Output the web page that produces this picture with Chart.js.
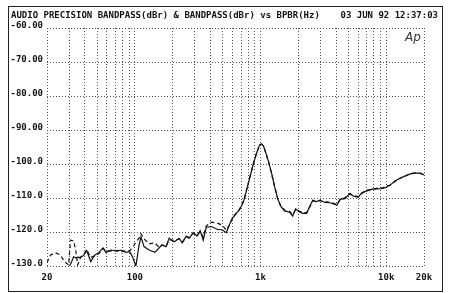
<!DOCTYPE html>
<html>
<head>
<meta charset="utf-8">
<script src="https://cdn.jsdelivr.net/npm/chart.js@4/dist/chart.umd.min.js"></script>
<style>
  html, body { margin: 0; padding: 0; background: #fff; }
  canvas { display: block; }
</style>
</head>
<body>
<canvas id="ap-sweep" width="450" height="293"></canvas>
<script>
// sweep frequencies (Hz)
const freqs = [20, 21.3, 23.3, 25.6, 27.5, 29.7, 30.8, 32.6, 33.8, 35.1,
  37.1, 39.3, 41.4, 44.6, 47.9, 51.9, 55.8, 58.9, 64.6, 72.1,
  77.4, 84.8, 91.2, 96.3, 101.9, 107.9, 111.9, 118.3, 129.8, 144.5,
  155.6, 164.6, 177.2, 187.5, 205.6, 225.4, 238.3, 256.5, 270.4, 291,
  313, 331, 350, 370, 406, 453, 497, 535, 565, 597,
  642, 680, 718, 745, 787, 832, 879, 929, 982, 1019,
  1057, 1096, 1159, 1225, 1295, 1368, 1445, 1556, 1706, 1803,
  1905, 2013, 2167, 2334, 2424, 2610, 2757, 2965, 3251, 3565,
  3908, 4055, 4285, 4699, 5152, 5445, 5970, 6430, 7047, 7727,
  8472, 9460, 10190, 10764, 11800, 12941, 14190, 15557, 17060, 18700,
  20000];

// BANDPASS (dBr), solid trace
const bandpassA = [-131, -131, -131, -131, -130.5, -130.2, -129.5, -127.3, -127.6, -127.4,
  -127.5, -126.8, -125.5, -128.7, -126.8, -126, -124.7, -126, -125.3, -125.6,
  -125.3, -126, -125.8, -127.5, -130, -124, -121.4, -124.3, -125.3, -126,
  -124.7, -123.8, -124.3, -121.8, -122.9, -121.9, -123.2, -121.2, -121.9, -120.2,
  -121.2, -119.6, -122.4, -118.6, -118.4, -119.2, -119.4, -120.2, -117.9, -116,
  -114.5, -113.5, -111.8, -110.1, -106.7, -103.2, -99.8, -96.9, -94.4, -94.1,
  -94.7, -96.4, -99.3, -102.7, -106.7, -110.1, -112.4, -113.8, -114.2, -115.3,
  -113.2, -114, -114.5, -114.5, -113, -110.6, -111.1, -110.6, -111.3, -111.4,
  -111.9, -112.1, -110.4, -110.2, -108.6, -109.4, -109.8, -108.4, -107.9, -107.4,
  -107.3, -107.2, -106.7, -106.2, -104.9, -104.2, -103.5, -102.9, -102.7, -102.7,
  -103.2];

// BANDPASS (dBr), dashed trace
const bandpassB = [-129, -126.8, -126.1, -126.8, -128.7, -129.7, -122.4, -122.6, -125.3, -129.7,
  -127.3, -126.5, -125.2, -127.5, -127, -126.3, -124.8, -125.5, -125.6, -125.4,
  -125.8, -125.5, -125.4, -124.5, -123, -121.8, -120.5, -122, -123.5, -123.2,
  -124.5, -123.8, -124.3, -122.3, -122.5, -122, -123, -121.4, -121.6, -120.4,
  -121, -119.8, -121.5, -118.2, -117.1, -117.4, -118, -119.5, -118, -116,
  -114.3, -113.3, -111.6, -110, -106.6, -103.2, -99.8, -96.8, -94.4, -94.1,
  -94.8, -96.5, -99.4, -102.8, -106.6, -110, -112.2, -113.6, -114, -115,
  -113.4, -113.8, -114.3, -114.2, -113.2, -110.8, -110.9, -110.8, -111.1, -111.2,
  -111.7, -112, -110.6, -109.9, -108.8, -109.2, -109.6, -108.6, -107.7, -107.5,
  -107.1, -107, -106.4, -106.3, -105.1, -104.1, -103.6, -102.8, -102.6, -102.8,
  -103.1];

const xLabels = { 20: '20', 100: '100', 1000: '1k', 10000: '10k', 20000: '20k' };
const yMin = -130, yMax = -60, yStep = 10;

// log grid: 20,30..90,100,200..
const xGrid = [];
[10, 100, 1000, 10000].forEach(d => {
  for (let m = 1; m <= 9; m++) {
    const v = d * m;
    if (v >= 20 && v <= 20000) xGrid.push(v);
  }
});

const monoFont = { family: "'DejaVu Sans Mono', 'Liberation Mono', monospace", size: 9, weight: 'bold' };
const gridStyle = { color: '#555', lineWidth: 1, drawTicks: false };
const dotted = { display: false, dash: [1, 2] };

const toPoints = (ys) => freqs.map((f, i) => ({ x: f, y: ys[i] }));

const headerPlugin = {
  id: 'apHeader',
  afterDraw(chart) {
    const c = chart.ctx;
    c.save();
    c.strokeStyle = '#222';
    c.lineWidth = 1;
    c.strokeRect(8.5, 6.5, 434, 285);
    c.fillStyle = '#111';
    c.font = "bold 9px 'DejaVu Sans Mono', monospace";
    c.textBaseline = 'middle';
    c.textAlign = 'left';
    c.fillText('AUDIO PRECISION BANDPASS(dBr) & BANDPASS(dBr) vs BPBR(Hz)', 11, 16);
    c.textAlign = 'right';
    c.fillText('03 JUN 92 12:37:03', 438, 16);
    c.font = "italic 12px 'DejaVu Sans', sans-serif";
    c.fillStyle = '#333';
    c.textAlign = 'left';
    c.fillText('Ap', 405, 38);
    c.restore();
  }
};

const ctx = document.getElementById('ap-sweep').getContext('2d');

new Chart(ctx, {
  type: 'line',
  data: {
    datasets: [{
      label: 'BANDPASS A',
      data: toPoints(bandpassA),
      borderColor: '#111',
      borderWidth: 1.2,
      pointRadius: 0,
      tension: 0
    }, {
      label: 'BANDPASS B',
      data: toPoints(bandpassB),
      borderColor: '#111',
      borderWidth: 1.2,
      borderDash: [4, 3],
      pointRadius: 0,
      tension: 0
    }]
  },
  options: {
    responsive: false,
    animation: false,
    devicePixelRatio: 1,
    layout: { padding: { left: 0, right: 26, top: 28, bottom: 0 } },
    plugins: {
      legend: { display: false },
      tooltip: { enabled: false }
    },
    scales: {
      x: {
        type: 'logarithmic',
        min: 20,
        max: 20000,
        afterBuildTicks: (scale) => { scale.ticks = xGrid.map(v => ({ value: v })); },
        afterFit: (scale) => { scale.height = 27; },
        grid: { ...gridStyle },
        border: { ...dotted },
        ticks: {
          autoSkip: false,
          maxRotation: 0,
          padding: 6,
          color: '#111',
          font: monoFont,
          callback: (v) => xLabels[v] || ''
        }
      },
      y: {
        min: yMin,
        max: yMax,
        afterFit: (scale) => { scale.width = 47; },
        grid: { ...gridStyle },
        border: { ...dotted },
        ticks: {
          stepSize: yStep,
          padding: 4,
          labelOffset: -2,
          color: '#111',
          font: monoFont,
          callback: (v) => v > -100 ? v.toFixed(2) : v.toFixed(1)
        }
      }
    }
  },
  plugins: [headerPlugin]
});
</script>
</body>
</html>
